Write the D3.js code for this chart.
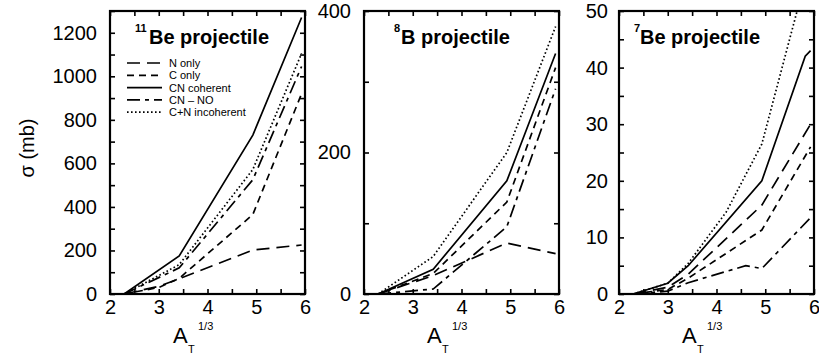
<!DOCTYPE html>
<html><head><meta charset="utf-8">
<script src="https://cdn.jsdelivr.net/npm/d3@7"></script>
<style>
body{margin:0;background:#fff;}
svg{display:block;font-family:"Liberation Sans",Arial,Helvetica,sans-serif;}
</style></head>
<body>
<svg id="chart" width="819" height="358"></svg>
<script>
// ---- data (x = A_T^(1/3), y = sigma in mb) ----
const seriesNames = ["N only", "C only", "CN coherent", "CN \u2013 NO", "C+N incoherent"];

const x11Be = [2.29, 3.0, 3.42, 4.93, 5.93];
const be11_N    = [0, 35, 70, 202, 225];
const be11_C    = [0, 30, 72, 365, 920];
const be11_CN   = [0, null, 175, 730, 1270];
const be11_CNNO = [0, null, 120, 525, 1045];
const be11_inc  = [0, null, 135, 572, 1105];

const x8B = [2.29, 3.42, 4.93, 5.93];
const b8_N    = [0, 26, 72, 57];
const b8_C    = [0, 29, 130, 320];
const b8_CN   = [0, 35, 160, 340];
const b8_CNNO = [0, 7, 95, 290];
const b8_inc  = [0, 53, 200, 378];

const x7Be = [2.29, 3.0, 3.42, 4.2, 4.6, 4.93, 5.82, 5.93];
const be7_N    = [0, 1.2, 3.5, null, null, 15.7, null, 30];
const be7_C    = [0, 0.8, 2.8, null, null, 11.3, null, 26];
const be7_CN   = [0, 1.9, 5.0, null, null, 20, 42, 43];
const be7_CNNO = [0, 0.5, 2.0, null, 5.0, 4.5, null, 13.5];
const be7_inc  = [0, 1.9, 5.4, 14.5, null, 26.5, null, 59];

const xTickLabels = [2, 3, 4, 5, 6];
const yTicks11 = [0, 200, 400, 600, 800, 1000, 1200];
const yTicks8 = [0, 200, 400];
const yTicks7 = [0, 10, 20, 30, 40, 50];

// ---- styling ----
const dashes = ["13,7", "7,5", null, "13,5,4,5", "1.6,2.4"];
const svg = d3.select("#chart");
const plotTop = 11, plotBottom = 294, pw = 195;

const panels = [
  {left:110, ymax:1300, yt:yTicks11, ystep:100, xs:x11Be, ys:[be11_N,be11_C,be11_CN,be11_CNNO,be11_inc],
   sup:"11", name:"Be projectile", supDx:25, nameDx:39, legend:true},
  {left:364, ymax:400, yt:yTicks8, ystep:100, xs:x8B, ys:[b8_N,b8_C,b8_CN,b8_CNNO,b8_inc],
   sup:"8", name:"B projectile", supDx:30, nameDx:37},
  {left:619, ymax:50, yt:yTicks7, ystep:5, xs:x7Be, ys:[be7_N,be7_C,be7_CN,be7_CNNO,be7_inc],
   sup:"7", name:"Be projectile", supDx:15, nameDx:21}
];

panels.forEach((p, pi) => {
  const x = d3.scaleLinear().domain([2, 6]).range([p.left, p.left + pw]);
  const y = d3.scaleLinear().domain([0, p.ymax]).range([plotBottom, plotTop]);
  const g = svg.append("g");
  const clipId = "clip" + pi;
  svg.append("clipPath").attr("id", clipId).append("rect")
    .attr("x", p.left).attr("y", plotTop).attr("width", pw).attr("height", plotBottom - plotTop);

  const minorX = d3.range(2, 6.01, 0.5);
  const minorY = d3.range(0, p.ymax + 0.01, p.ystep);

  const tl = 5;
  const axB = g.append("g").attr("transform", `translate(0,${plotBottom})`)
    .call(d3.axisBottom(x).tickValues(minorX).tickSize(-tl).tickFormat(""));
  const axT = g.append("g").attr("transform", `translate(0,${plotTop})`)
    .call(d3.axisTop(x).tickValues(minorX).tickSize(-tl).tickFormat(""));
  const axL = g.append("g").attr("transform", `translate(${p.left},0)`)
    .call(d3.axisLeft(y).tickValues(minorY).tickSize(-tl).tickFormat(""));
  const axR = g.append("g").attr("transform", `translate(${p.left + pw},0)`)
    .call(d3.axisRight(y).tickValues(minorY).tickSize(-tl).tickFormat(""));
  [axB, axT, axL, axR].forEach(a => {
    a.select(".domain").remove();
    a.selectAll("line").attr("stroke", "#000").attr("stroke-width", 1.6);
  });

  const labX = g.append("g").attr("transform", `translate(0,${plotBottom})`)
    .call(d3.axisBottom(x).tickValues(xTickLabels).tickSize(0).tickPadding(6).tickFormat(d3.format("d")));
  const labY = g.append("g").attr("transform", `translate(${p.left},0)`)
    .call(d3.axisLeft(y).tickValues(p.yt).tickSize(0).tickPadding(pi === 2 ? 11 : 13).tickFormat(d3.format("d")));
  [labX, labY].forEach(a => {
    a.select(".domain").remove();
    a.selectAll("text").attr("fill", "#000").style("font-size", "20px")
      .style("font-family", '"Liberation Sans",Arial,Helvetica,sans-serif');
  });

  const line = d3.line().x(d => x(d[0])).y(d => y(d[1]));
  p.ys.forEach((vals, si) => {
    const pts = p.xs.map((xv, i) => [xv, vals[i]]).filter(d => d[1] !== null);
    g.append("path").attr("d", line(pts)).attr("clip-path", `url(#${clipId})`)
      .attr("fill", "none").attr("stroke", "#000").attr("stroke-width", 1.7)
      .attr("stroke-dasharray", dashes[si]);
  });

  g.append("rect").attr("x", p.left).attr("y", plotTop).attr("width", pw).attr("height", plotBottom - plotTop)
    .attr("fill", "none").attr("stroke", "#000").attr("stroke-width", 2.2);

  g.append("text").attr("x", p.left + p.supDx).attr("y", 32).style("font-size", "11px")
    .style("font-weight", "bold").text(p.sup);
  g.append("text").attr("x", p.left + p.nameDx).attr("y", 44).style("font-size", "20px")
    .style("font-weight", "bold").text(p.name);

  const xl = p.left + 63;
  g.append("text").attr("x", xl).attr("y", 343).style("font-size", "22px").text("A");
  g.append("text").attr("x", xl + 15).attr("y", 353).style("font-size", "11px").text("T");
  g.append("text").attr("x", xl + 25).attr("y", 330).style("font-size", "11px").text("1/3");

  if (p.legend) {
    const lg = g.append("g");
    seriesNames.forEach((nm, i) => {
      const yy = 63 + i * 12.3;
      lg.append("line").attr("x1", 127).attr("x2", 162).attr("y1", yy).attr("y2", yy)
        .attr("stroke", "#000").attr("stroke-width", 1.7).attr("stroke-dasharray", dashes[i]);
      lg.append("text").attr("x", 169).attr("y", yy + 4).style("font-size", "11px").text(nm);
    });
  }
});

svg.append("text").attr("transform", "translate(34,148) rotate(-90)")
  .attr("text-anchor", "middle").style("font-size", "20px").text("\u03c3 (mb)");
</script>
</body></html>
